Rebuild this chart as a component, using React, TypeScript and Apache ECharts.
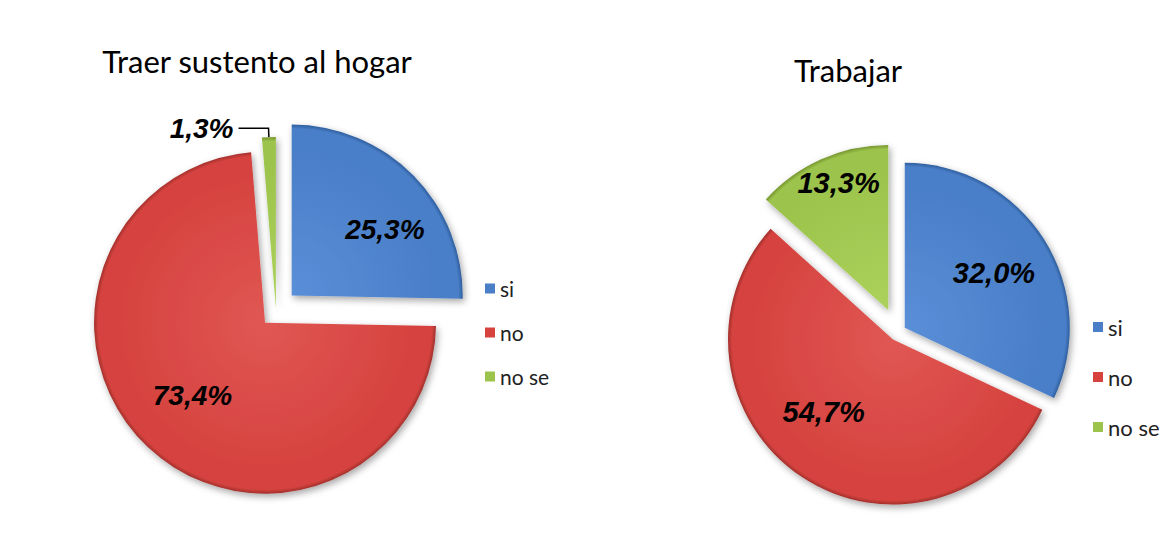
import React, { useEffect, useRef } from 'react';
import * as echarts from 'echarts';

// ---- data ----
const categories = ['si', 'no', 'no se'];
const hogarValues = [25.3, 73.4, 1.3];
const trabajarValues = [32.0, 54.7, 13.3];
const titles = ['Traer sustento al hogar', 'Trabajar'];

// ---- styles ----
const COLORS = [
  { base: '#4A7FC8', light: '#5A8FD8', dark: '#2E5E9E' },
  { base: '#D6433F', light: '#E05753', dark: '#A2302C' },
  { base: '#9CC34B', light: '#ACD25C', dark: '#76962F' },
];

const PIES = [
  {
    values: hogarValues,
    title: titles[0],
    cx: 276, cy: 311, r: 171,
    offsets: [22, 16, 3],
    labelShift: [[30, -4], [-12, 8], [0, 0]],
    outside: [false, false, true],
    titleX: 257, titleY: 45,
    legendX: 485, legendY: 278, legendGap: 23, legendFont: 21,
    labelFont: 28,
  },
  {
    values: trabajarValues,
    title: titles[1],
    cx: 898, cy: 332, r: 165,
    offsets: [8, 9, 24],
    labelShift: [[17, -9], [-22, 1], [-15, -49]],
    outside: [false, false, false],
    titleX: 848, titleY: 54,
    legendX: 1093, legendY: 316, legendGap: 28, legendFont: 22,
    labelFont: 29,
  },
];

const fmt = (p: any) => Number(p.value).toFixed(1).replace('.', ',') + '%';

function buildOption() {
  const series: any[] = [];
  PIES.forEach((pie) => {
    categories.forEach((_, k) => {
      const c = COLORS[k];
      const grad = new echarts.graphic.RadialGradient(
        pie.cx, pie.cy, pie.r,
        [
          { offset: 0, color: c.light },
          { offset: 0.85, color: c.base },
          { offset: 0.975, color: c.base },
          { offset: 1, color: c.dark },
        ],
        true
      );
      const shift = pie.labelShift[k];
      series.push({
        type: 'pie',
        name: pie.title + '-' + k,
        center: [pie.cx, pie.cy],
        radius: pie.r,
        startAngle: 90,
        clockwise: true,
        selectedMode: 'multiple',
        selectedOffset: pie.offsets[k],
        avoidLabelOverlap: false,
        silent: true,
        emphasis: { disabled: true },
        select: { itemStyle: { borderWidth: 0 } },
        labelLayout: shift[0] || shift[1] ? { dx: shift[0], dy: shift[1] } : undefined,
        data: categories.map((name, i) => {
          const vis = i === k;
          return {
            name,
            value: pie.values[i],
            selected: vis,
            itemStyle: vis
              ? {
                  color: grad,
                  borderWidth: 0,
                  shadowBlur: 7,
                  shadowOffsetX: 2,
                  shadowOffsetY: 3,
                  shadowColor: 'rgba(0,0,0,0.35)',
                }
              : { color: 'rgba(0,0,0,0)', borderWidth: 0, shadowBlur: 0 },
            label: vis
              ? {
                  show: true,
                  position: pie.outside[k] ? 'outside' : 'inside',
                  formatter: fmt,
                  fontSize: pie.labelFont,
                  fontWeight: 'bold',
                  fontStyle: 'italic',
                  fontFamily: '"Liberation Sans", Arial, sans-serif',
                  color: '#000',
                  textBorderWidth: 0,
                }
              : { show: false },
            labelLine: vis && pie.outside[k]
              ? { show: true, length: 9, length2: 30, lineStyle: { color: '#000', width: 1.5 } }
              : { show: false },
          };
        }),
      });
    });
  });

  return {
    animation: false,
    backgroundColor: '#ffffff',
    title: PIES.map((pie) => ({
      text: pie.title,
      left: pie.titleX,
      top: pie.titleY,
      padding: 0,
      textAlign: 'center',
      textStyle: {
        fontFamily: 'Lato, "Open Sans", sans-serif',
        fontSize: 31,
        fontWeight: 'normal',
        color: '#000',
      },
    })),
    legend: PIES.map((pie) => ({
      orient: 'vertical',
      left: pie.legendX,
      top: pie.legendY,
      padding: 0,
      icon: 'rect',
      itemWidth: 10,
      itemHeight: 10,
      itemGap: pie.legendGap,
      selectedMode: false,
      textStyle: {
        fontFamily: 'Lato, "Open Sans", sans-serif',
        fontSize: pie.legendFont,
        color: '#222',
      },
      data: categories.map((name, i) => ({
        name,
        itemStyle: { color: COLORS[i].base },
      })),
    })),
    series,
  };
}

export default function App() {
  const ref = useRef<HTMLDivElement>(null);
  useEffect(() => {
    if (!ref.current) return;
    const chart = echarts.init(ref.current, undefined, { renderer: 'svg' });
    chart.setOption(buildOption());
    return () => chart.dispose();
  }, []);
  return (
    <div
      ref={ref}
      style={{ position: 'fixed', left: 0, top: 0, width: 1169, height: 542, background: '#fff' }}
    />
  );
}
